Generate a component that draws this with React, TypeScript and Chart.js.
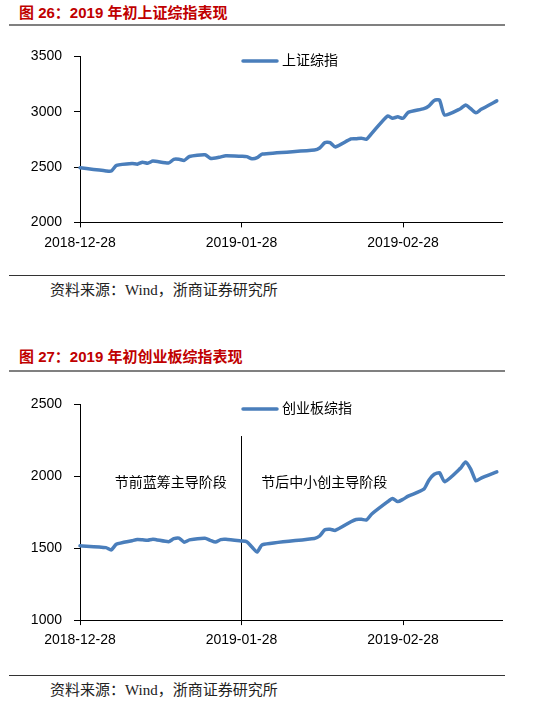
import React, { useEffect, useRef } from "react";
import { Chart, registerables } from "chart.js";

Chart.register(...registerables);

// ---------- data ----------
const startDate = "2018-12-28";
const endDate = "2019-03-19";

const tradeDates = [
  "2018-12-28",
  "2019-01-02", "2019-01-03", "2019-01-04",
  "2019-01-07", "2019-01-08", "2019-01-09", "2019-01-10", "2019-01-11",
  "2019-01-14", "2019-01-15", "2019-01-16", "2019-01-17", "2019-01-18",
  "2019-01-21", "2019-01-22", "2019-01-23", "2019-01-24", "2019-01-25",
  "2019-01-28", "2019-01-29", "2019-01-30", "2019-01-31", "2019-02-01",
  "2019-02-11", "2019-02-12", "2019-02-13", "2019-02-14", "2019-02-15",
  "2019-02-18", "2019-02-19", "2019-02-20", "2019-02-21", "2019-02-22",
  "2019-02-25", "2019-02-26", "2019-02-27", "2019-02-28", "2019-03-01",
  "2019-03-04", "2019-03-05", "2019-03-06", "2019-03-07", "2019-03-08",
  "2019-03-11", "2019-03-12", "2019-03-13", "2019-03-14", "2019-03-15",
  "2019-03-18",
];

const shValues = [
  2494,
  2465, 2464, 2515,
  2533, 2526, 2544, 2535, 2554,
  2536, 2570, 2570, 2560, 2596,
  2611, 2580, 2581, 2592, 2602,
  2597, 2594, 2576, 2585, 2618,
  2654, 2672, 2721, 2720, 2682,
  2754, 2756, 2761, 2752, 2804,
  2961, 2942, 2954, 2941, 2994,
  3028, 3054, 3102, 3106, 2970,
  3027, 3060, 3027, 2991, 3022,
  3098,
];

const cyValues = [
  1517,
  1504, 1488, 1528,
  1552, 1560, 1558, 1555, 1563,
  1545, 1566, 1570, 1542, 1558,
  1570, 1555, 1543, 1560, 1562,
  1550, 1545, 1508, 1473, 1524,
  1568, 1585, 1628, 1632, 1624,
  1684, 1700, 1701, 1696, 1738,
  1822, 1846, 1824, 1840, 1862,
  1910, 1975, 2014, 2025, 1962,
  2055, 2100, 2050, 1968, 1988,
  2031,
];

const xTickDates = ["2018-12-28", "2019-01-28", "2019-02-28"];
const shTickRange = [2000, 3500];
const cyTickRange = [1000, 2500];

const dividerDate = "2019-01-28";
const dividerValues = [1000, 2280];

const stageLabels = ["节前蓝筹主导阶段", "节后中小创主导阶段"];
const stageLabelDays = [17.4, 46.9];
const stageLabelValue = 1953;

// ---------- helpers ----------
const DAY = 86400000;
const dayOf = (d: string) => Math.round((Date.parse(d) - Date.parse(startDate)) / DAY);
const tickDays = xTickDates.map(dayOf);

const FONT = '"Liberation Sans", "Noto Sans CJK SC", sans-serif';
const BLUE = "#4A7EBB";

const legendPlugin = {
  id: "manualLegend",
  afterDraw(chart: any) {
    const ds = chart.data.datasets[0];
    const { ctx, chartArea } = chart;
    const x0 = chartArea.left + 163;
    const y0 = chartArea.top + 4.5;
    ctx.save();
    ctx.strokeStyle = ds.borderColor;
    ctx.lineWidth = 3.5;
    ctx.lineCap = "round";
    ctx.beginPath();
    ctx.moveTo(x0, y0);
    ctx.lineTo(x0 + 34, y0);
    ctx.stroke();
    ctx.font = "14px " + FONT;
    ctx.fillStyle = "#000";
    ctx.textBaseline = "middle";
    ctx.textAlign = "left";
    ctx.fillText(ds.label, x0 + 39, y0);
    ctx.restore();
  },
};

const stagePlugin = {
  id: "stageLabels",
  afterDatasetsDraw(chart: any, _args: any, opts: any) {
    if (!opts || !opts.show) return;
    const { ctx, scales } = chart;
    ctx.save();
    ctx.font = "14px " + FONT;
    ctx.fillStyle = "#000";
    ctx.textBaseline = "middle";
    ctx.textAlign = "center";
    stageLabels.forEach((t, i) => {
      ctx.fillText(t, scales.x.getPixelForValue(stageLabelDays[i]), scales.y.getPixelForValue(stageLabelValue));
    });
    ctx.restore();
  },
};

function makeConfig(opts: {
  label: string;
  values: number[];
  range: number[];
  xHeight: number;
  divider: boolean;
}): any {
  const datasets: any[] = [
    {
      label: opts.label,
      data: tradeDates.map((d, i) => ({ x: dayOf(d), y: opts.values[i] })),
      borderColor: BLUE,
      backgroundColor: BLUE,
      borderWidth: 3.5,
      pointRadius: 0,
      tension: 0.2,
      borderJoinStyle: "round",
      borderCapStyle: "round",
      clip: false,
    },
  ];
  if (opts.divider) {
    datasets.push({
      label: "divider",
      data: dividerValues.map((v) => ({ x: dayOf(dividerDate), y: v })),
      borderColor: "#000",
      borderWidth: 1,
      pointRadius: 0,
    });
  }
  return {
    type: "line",
    data: { datasets },
    plugins: [legendPlugin, stagePlugin],
    options: {
      animation: false,
      responsive: false,
      layout: { padding: { top: 0, right: 18, left: 0, bottom: 0 } },
      plugins: {
        legend: { display: false },
        tooltip: { enabled: false },
        stageLabels: { show: opts.divider },
      },
      scales: {
        x: {
          type: "linear",
          min: 0,
          max: dayOf(endDate),
          afterBuildTicks: (s: any) => {
            s.ticks = tickDays.map((v) => ({ value: v }));
          },
          afterFit: (s: any) => {
            s.height = opts.xHeight;
          },
          ticks: {
            autoSkip: false,
            maxRotation: 0,
            padding: 7,
            color: "#000",
            font: { family: FONT, size: 14 },
            callback: (v: number) => {
              const i = tickDays.indexOf(v);
              return i >= 0 ? xTickDates[i] : "";
            },
          },
          grid: { drawOnChartArea: false, drawTicks: true, tickLength: 5, color: "#000", tickColor: "#000" },
          border: { display: true, color: "#000", width: 1 },
        },
        y: {
          min: opts.range[0],
          max: opts.range[1],
          afterFit: (s: any) => {
            s.width = 80;
          },
          ticks: {
            stepSize: 500,
            padding: 12,
            color: "#000",
            font: { family: FONT, size: 14 },
            callback: (v: number) => String(v),
          },
          grid: { drawOnChartArea: false, drawTicks: true, tickLength: 6, color: "#000", tickColor: "#000" },
          border: { display: true, color: "#000", width: 1 },
        },
      },
    },
  };
}

function LineChart(props: { cfg: any; width: number; height: number }) {
  const ref = useRef<HTMLCanvasElement | null>(null);
  useEffect(() => {
    if (!ref.current) return;
    const chart = new Chart(ref.current, props.cfg);
    return () => chart.destroy();
  }, []);
  return (
    <canvas
      ref={ref}
      width={props.width}
      height={props.height}
      style={{ width: props.width, height: props.height, display: "block" }}
    />
  );
}

const abs = (left: number, top: number, extra: any = {}) => ({ position: "absolute" as const, left, top, ...extra });

const titleStyle = (top: number) =>
  abs(19, top, {
    color: "#C00000",
    fontWeight: "bold",
    fontSize: 15,
    lineHeight: "15px",
    fontFamily: FONT,
    whiteSpace: "nowrap",
  });

const sourceStyle = (top: number) =>
  abs(50, top, {
    color: "#222",
    fontSize: 15,
    lineHeight: "15px",
    fontFamily: '"Liberation Serif", "Noto Sans CJK SC", serif',
    whiteSpace: "nowrap",
  });

export default function App() {
  const cfg1 = makeConfig({ label: "上证综指", values: shValues, range: shTickRange, xHeight: 38.6, divider: false });
  const cfg2 = makeConfig({ label: "创业板综指", values: cyValues, range: cyTickRange, xHeight: 28.9, divider: true });
  return (
    <div style={abs(0, 0, { width: 550, height: 706, background: "#fff", overflow: "hidden" })}>
      <div style={titleStyle(4.5)}>图 26：2019 年初上证综指表现</div>
      <div style={abs(9, 24, { width: 496, height: 2, background: "#808080" })} />
      <div style={abs(0, 36.3, { width: 520, height: 225 })}>
        <LineChart cfg={cfg1} width={520} height={225} />
      </div>
      <div style={abs(9, 275, { width: 496, height: 1, background: "#333" })} />
      <div style={sourceStyle(283)}>资料来源：Wind，浙商证券研究所</div>

      <div style={titleStyle(349)}>图 27：2019 年初创业板综指表现</div>
      <div style={abs(9, 369.5, { width: 496, height: 2, background: "#808080" })} />
      <div style={abs(0, 383.9, { width: 520, height: 265 })}>
        <LineChart cfg={cfg2} width={520} height={265} />
      </div>
      <div style={abs(9, 675, { width: 496, height: 1, background: "#333" })} />
      <div style={sourceStyle(683)}>资料来源：Wind，浙商证券研究所</div>
    </div>
  );
}
